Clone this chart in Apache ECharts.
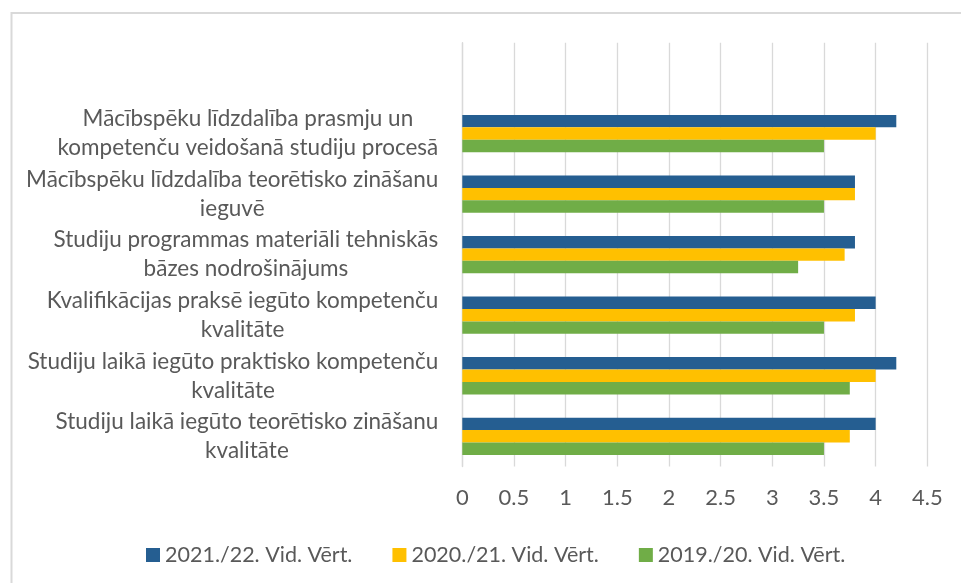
<!DOCTYPE html>
<html>
<head>
<meta charset="utf-8">
<script src="https://cdn.jsdelivr.net/npm/echarts@6/dist/echarts.min.js"></script>
<style>
html,body{margin:0;padding:0;background:#fff;}
#chart{width:961px;height:583px;}
</style>
</head>
<body>
<div id="chart"></div>
<script>
const categories = [
  '',
  'Mācībspēku līdzdalība prasmju un\nkompetenču veidošanā studiju procesā',
  'Mācībspēku līdzdalība teorētisko zināšanu\nieguvē',
  'Studiju programmas materiāli tehniskās\nbāzes nodrošinājums',
  'Kvalifikācijas praksē iegūto kompetenču\nkvalitāte',
  'Studiju laikā iegūto praktisko kompetenču\nkvalitāte',
  'Studiju laikā iegūto teorētisko zināšanu\nkvalitāte'
];
const seriesNames = ['2021./22. Vid. Vērt.', '2020./21. Vid. Vērt.', '2019./20. Vid. Vērt.'];
const values2122 = [null, 4.2, 3.8, 3.8, 4.0, 4.2, 4.0];
const values2021 = [null, 4.0, 3.8, 3.7, 3.8, 4.0, 3.75];
const values1920 = [null, 3.5, 3.5, 3.25, 3.5, 3.75, 3.5];
const colors = ['#255E91', '#FFC000', '#70AD47'];

const FONT = 'Lato';
const chart = echarts.init(document.getElementById('chart'), null, {renderer: 'canvas'});
const allValues = [values2122, values2021, values1920];
chart.setOption({
  animation: false,
  backgroundColor: '#ffffff',
  graphic: [{
    type: 'rect', silent: true,
    shape: {x: 11.5, y: 13, width: 1000, height: 700},
    style: {fill: 'none', stroke: '#d9d9d9', lineWidth: 2}
  }],
  grid: {left: 462.3, right: 33.7, top: 42.7, bottom: 116.4, containLabel: false},
  xAxis: {
    type: 'value', min: 0, max: 4.5, interval: 0.5,
    axisLine: {show: false}, axisTick: {show: false},
    splitLine: {lineStyle: {color: '#d9d9d9', width: 1.3}},
    axisLabel: {color: '#595959', fontFamily: FONT, fontSize: 22, margin: 20}
  },
  yAxis: {
    type: 'category', data: categories, inverse: true,
    axisLine: {show: true, lineStyle: {color: '#d9d9d9', width: 1.3}},
    axisTick: {show: false},
    axisLabel: {
      margin: 24, align: 'right',
      formatter: function (v) {
        if (!v) return '';
        return v.split('\n').map(l => '{c|' + l + '}').join('\n');
      },
      rich: {c: {align: 'center', color: '#595959', fontFamily: FONT, fontSize: 22.5, lineHeight: 29}}
    }
  },
  legend: {
    left: 141, top: 539, itemWidth: 14, itemHeight: 14, itemGap: 40,
    icon: 'rect',
    textStyle: {color: '#595959', fontFamily: FONT, fontSize: 21.5},
    data: seriesNames
  },
  series: seriesNames.map((n, i) => ({
    name: n, type: 'bar', data: allValues[i],
    itemStyle: {color: colors[i]},
    barGap: '0%', barCategoryGap: '38.4%'
  }))
});
</script>
</body>
</html>
